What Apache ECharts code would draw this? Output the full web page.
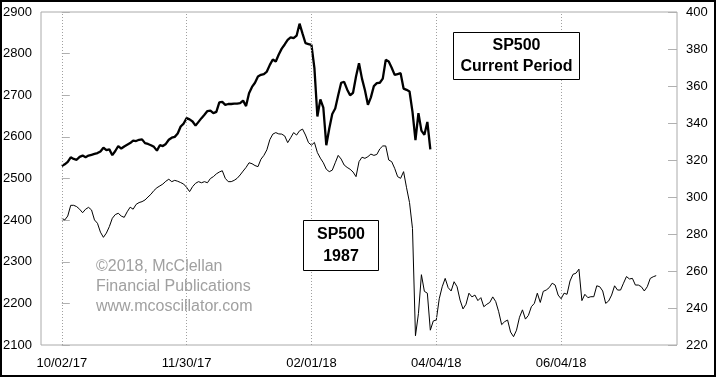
<!DOCTYPE html>
<html>
<head>
<meta charset="utf-8">
<script src="https://cdn.jsdelivr.net/npm/echarts@6/dist/echarts.min.js"></script>
<style>
html,body{margin:0;padding:0;background:#fff;}
#c{width:716px;height:377px;}
</style>
</head>
<body>
<div id="c"></div>
<script>
// Trading-day index of the x-axis tick labels (0 = 10/02/17)
const tickDays = [0, 42, 84, 126, 168];
const tickLabels = ['10/02/17', '11/30/17', '02/01/18', '04/04/18', '06/04/18'];

// SP500 current period (left axis), one value per trading day starting at day 0
const currentValues = [
  2530,2534,2540,2551,2547,2545,2552,2555,2551,2555,
  2557,2559,2561,2565,2574,2568,2570,2556,2566,2578,
  2572,2577,2581,2585,2591,2590,2593,2594,2585,2583,
  2580,2576,2567,2580,2578,2583,2593,2598,2600,2608,
  2625,2632,2645,2642,2637,2627,2636,2645,2653,2662,
  2663,2657,2660,2683,2684,2677,2679,2679,2680,2680,
  2681,2687,2674,2705,2720,2730,2745,2749,2751,2757,
  2773,2786,2781,2798,2812,2822,2833,2839,2837,2843,
  2872,2848,2825,2823,2821,2765,2649,2690,2670,2580,
  2620,2655,2668,2700,2730,2732,2714,2700,2706,2745,
  2777,2740,2712,2677,2695,2722,2729,2730,2740,2785,
  2781,2766,2749,2751,2753,2716,2713,2709,2660,2592,
  2657,2615,2605,2636,2570
];

// SP500 1987 (right axis), one value per trading day starting at day 0
const values1987 = [
  288.5,287.6,289.7,295.5,295.5,294.8,293.4,291.5,293.4,294.4,
  293,287.6,285.8,281,278.2,280.5,284,288.5,290.5,291.2,
  289.7,289,292,294.5,293.4,296,297,297.5,298.4,300,
  301.5,303.5,305,306,307,308.5,309.6,308.3,309,308.5,
  307.8,307,305.2,302.9,305.6,307.4,308.3,307.7,308.3,307.7,
  310,311,312.5,313.5,314.2,310.1,308.3,308.3,309,310.1,
  311.9,314,316,318.5,318,317,316.4,320.4,322.5,325.5,
  331,334,334.8,334.1,334,333,329.4,332,334.8,333.5,
  335.8,336.7,333.5,329.4,328,329.5,324,321,318.5,315,
  313.7,314.5,318.5,322.5,320.5,317.3,316,315,313.5,311,
  319.1,321.5,320.9,321.8,323.2,322.5,323,326,327.6,327.6,
  320,319.1,315.5,311,310.1,313.7,305,297,283,225,
  237,258,249,248,228,233,233.5,245,251.5,256,
  251,249.2,254.2,251.5,244.3,239.5,242,248,246,247,
  244,245.6,240.7,242,243,246,243.5,238,231,232.6,
  233.5,227,224.5,228,235,239,234,236,240.7,242.5,
  248,243,249,249.7,251,253.4,252.4,247,245,248,
  247.4,254.6,258.2,258.8,261,244,247.4,245.6,246.1,246.1,
  252,251.5,249.2,242.5,243.8,247,252,249.7,249.7,253.4,
  257,255.7,256,252.4,252.4,251.5,249.2,251.5,256,256.9,257.5
];

const chart = echarts.init(document.getElementById('c'), null, {renderer: 'canvas'});
const axisFont = {color: '#000', fontSize: 13, fontFamily: '"Liberation Sans Narrow", "Liberation Sans", Arial, sans-serif'};
const boxFont = 'bold 16px "Liberation Sans", Arial, sans-serif';
const grayFont = '16px "Liberation Sans", Arial, sans-serif';

chart.setOption({
  animation: false,
  backgroundColor: '#fff',
  grid: {left: 41, right: 39, top: 12, bottom: 32, containLabel: false, outerBoundsMode: 'none',
         show: true, borderColor: '#aaaaaa', borderWidth: 1, backgroundColor: 'transparent'},
  xAxis: {
    type: 'value', min: -7, max: 207,
    axisLine: {show: false}, axisTick: {show: false}, splitLine: {show: false},
    axisLabel: Object.assign({}, axisFont, {
      customValues: tickDays, margin: 12,
      formatter: v => { const i = tickDays.indexOf(v); return i >= 0 ? tickLabels[i] : ''; }
    })
  },
  yAxis: [
    {type: 'value', min: 2100, max: 2900, interval: 100, position: 'left',
     axisLine: {show: false}, splitLine: {show: false},
     axisTick: {show: true, inside: true, length: 8, lineStyle: {color: '#b0b0b0'}},
     axisLabel: Object.assign({}, axisFont, {margin: 9, formatter: v => String(v)})},
    {type: 'value', min: 220, max: 400, interval: 20, position: 'right',
     axisLine: {show: false}, splitLine: {show: false},
     axisTick: {show: true, inside: true, length: 9, lineStyle: {color: '#b0b0b0'}},
     axisLabel: Object.assign({}, axisFont, {margin: 9, formatter: v => String(v)})}
  ],
  series: [
    {type: 'line', yAxisIndex: 1, showSymbol: false, silent: true, z: 3,
     lineStyle: {color: '#000', width: 1}, data: values1987.map((v, i) => [i, v]),
     markLine: {silent: true, symbol: ['none', 'none'], label: {show: false},
       lineStyle: {type: [1, 2], color: '#a0a0a0', width: 1},
       data: tickDays.map(d => ({xAxis: d}))}},
    {type: 'line', yAxisIndex: 0, showSymbol: false, silent: true, z: 4,
     lineStyle: {color: '#000', width: 2.3}, data: currentValues.map((v, i) => [i, v])}
  ],
  graphic: [
    {type: 'rect', z: 100, shape: {x: 453.5, y: 32.5, width: 126, height: 47}, style: {fill: '#fff', stroke: '#000', lineWidth: 1}},
    {type: 'text', z: 101, x: 516.5, y: 46, style: {text: 'SP500', font: boxFont, fill: '#000', align: 'center', verticalAlign: 'middle'}},
    {type: 'text', z: 101, x: 516.5, y: 67, style: {text: 'Current Period', font: boxFont, fill: '#000', align: 'center', verticalAlign: 'middle'}},
    {type: 'rect', z: 100, shape: {x: 303.5, y: 220.5, width: 75, height: 50}, style: {fill: '#fff', stroke: '#000', lineWidth: 1}},
    {type: 'text', z: 101, x: 341, y: 235, style: {text: 'SP500', font: boxFont, fill: '#000', align: 'center', verticalAlign: 'middle'}},
    {type: 'text', z: 101, x: 341, y: 257, style: {text: '1987', font: boxFont, fill: '#000', align: 'center', verticalAlign: 'middle'}},
    {type: 'text', z: 101, x: 96, y: 267, style: {text: '©2018, McClellan', font: grayFont, fill: '#a0a0a0', align: 'left', verticalAlign: 'middle'}},
    {type: 'text', z: 101, x: 96, y: 287, style: {text: 'Financial Publications', font: grayFont, fill: '#a0a0a0', align: 'left', verticalAlign: 'middle'}},
    {type: 'text', z: 101, x: 96, y: 307, style: {text: 'www.mcoscillator.com', font: grayFont, fill: '#a0a0a0', align: 'left', verticalAlign: 'middle'}},
    {type: 'rect', z: 200, shape: {x: 1, y: 1, width: 714, height: 375}, style: {fill: 'none', stroke: '#000', lineWidth: 2}}
  ]
});
</script>
</body>
</html>
